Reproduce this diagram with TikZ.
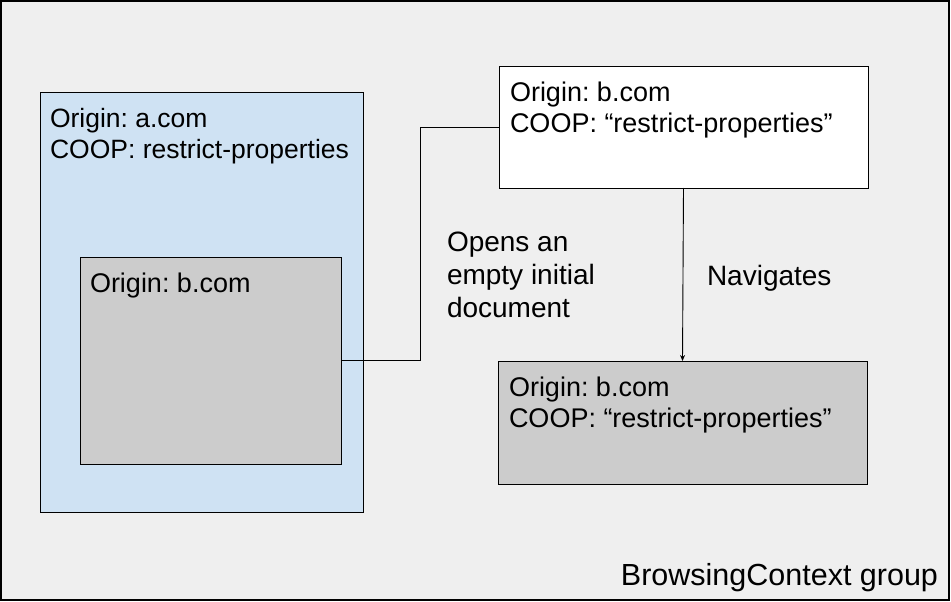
\documentclass[tikz,border=0pt]{standalone}
\usepackage{fontspec}
\setmainfont{Liberation Sans}
\usetikzlibrary{arrows.meta}
\definecolor{groupgray}{HTML}{EFEFEF}
\definecolor{frameblue}{HTML}{CFE2F3}
\definecolor{docgray}{HTML}{CCCCCC}
\frenchspacing

\begin{document}
\begin{tikzpicture}[x=1pt, y=-1pt,
   every node/.style={font=\fontsize{27}{31.5}\selectfont, inner sep=0pt, outer sep=0pt},
   box/.style={draw, anchor=north west, line width=0.9pt},
   boxtext/.style={anchor=base west, align=left},
   link/.style={draw, line width=0.9pt}]

\useasboundingbox (0,0) rectangle (951,602);

\node[box, fill=groupgray, line width=1.4pt, minimum width=948pt, minimum height=599pt] (group) at (1,1) {};
\node[box, fill=frameblue, minimum width=323pt, minimum height=420pt] (frame) at (40,92) {};
\node[box, fill=docgray, minimum width=261pt, minimum height=207pt] (inner) at (80,257) {};
\node[box, fill=white, minimum width=369pt, minimum height=122pt] (opener) at (499,66) {};
\node[box, fill=docgray, minimum width=369pt, minimum height=123pt] (navigated) at (498,361) {};

% base anchor sits on the last line
\node[boxtext, font=\fontsize{26.5}{31.5}\selectfont] (frametext) at ([shift={(10,66.5)}]frame.north west) {Origin: a.com\\COOP: restrict-properties};
\node[boxtext] (innertext) at ([shift={(10,35)}]inner.north west) {Origin: b.com};
\node[boxtext] (openertext) at ([shift={(11,66.5)}]opener.north west) {Origin: b.com\\COOP: “restrict-properties”};
\node[boxtext] (navigatedtext) at ([shift={(11,66.5)}]navigated.north west) {Origin: b.com\\COOP: “restrict-properties”};

\draw[link] (inner.east) -- ++(79,0) |- (opener.west);
\draw[link, -{Stealth[length=6pt, width=5pt]}] (opener.south) -- (navigated.north);

\node[boxtext, font=\fontsize{28}{33}\selectfont] (openslabel) at (447,317) {Opens an\\empty initial\\document};
\node[boxtext, font=\fontsize{28}{33}\selectfont] (navlabel) at (707,285) {Navigates};
\node[anchor=base east, font=\fontsize{30.5}{33}\selectfont] (grouplabel) at (938,585) {BrowsingContext group};

\end{tikzpicture}
\end{document}
